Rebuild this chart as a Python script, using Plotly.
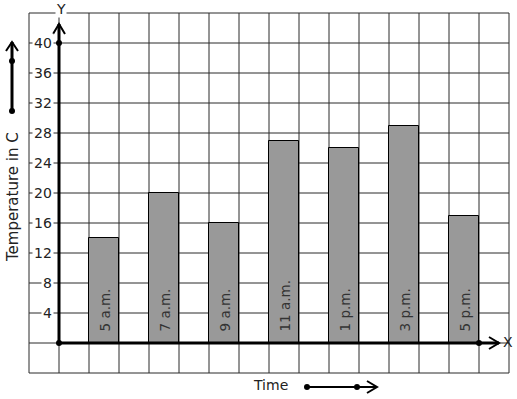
import plotly.graph_objects as go

# ---- data ----
times = ["5 a.m.", "7 a.m.", "9 a.m.", "11 a.m.", "1 p.m.", "3 p.m.", "5 p.m."]
temps = [14, 20, 16, 27, 26, 29, 17]
bar_pos = [1.5, 3.5, 5.5, 7.5, 9.5, 11.5, 13.5]
y_ticks = [4, 8, 12, 16, 20, 24, 28, 32, 36, 40]

# ---- pixel geometry helpers (figure is 517x399, plot area = whole figure) ----
W, H = 517, 399
X0PX, Y0PX = 59, 343          # pixel position of origin
PX_X, PX_Y = 30.0, 7.5        # pixels per data unit
def dx(px): return (px - X0PX) / PX_X
def dy(py): return (Y0PX - py) / PX_Y

FONT = "DejaVu Sans"
TXT = "#222222"
shapes = []
annotations = []

# grid
for gx in range(-1, 16):
    shapes.append(dict(type="line", x0=gx, x1=gx, y0=-4, y1=44,
                       line=dict(color="#2b2b2b", width=1), layer="below"))
for gy in range(-4, 45, 4):
    shapes.append(dict(type="line", x0=-1, x1=15, y0=gy, y1=gy,
                       line=dict(color="#2b2b2b", width=1), layer="below"))

fig = go.Figure()
fig.add_trace(go.Bar(
    x=bar_pos, y=temps, width=1,
    marker=dict(color="#999999", line=dict(color="#000000", width=1)),
    hoverinfo="skip", showlegend=False,
))

# bar labels (rotated, at the base of each bar)
for xp, lab in zip(bar_pos, times):
    annotations.append(dict(x=xp, y=0, text=lab, showarrow=False, textangle=-90,
                            xanchor="center", yanchor="bottom", yshift=9,
                            font=dict(family=FONT, size=13.5, color="#333333")))

# y tick labels
for t in y_ticks:
    annotations.append(dict(x=dx(54), y=t, text=str(t), showarrow=False,
                            xanchor="right", yanchor="middle", bgcolor="white",
                            borderpad=1,
                            font=dict(family=FONT, size=14, color=TXT)))

# axes
ytip, xtip = dy(24), dx(499)
shapes.append(dict(type="line", x0=0, x1=0, y0=0, y1=ytip, line=dict(color="black", width=3)))
shapes.append(dict(type="line", x0=0, x1=xtip, y0=0, y1=0, line=dict(color="black", width=3)))
# arrowheads (open chevrons)
shapes.append(dict(type="path",
                   path=f"M {dx(53)},{dy(34)} L 0,{ytip} L {dx(65)},{dy(34)}",
                   line=dict(color="black", width=2)))
shapes.append(dict(type="path",
                   path=f"M {dx(489)},{dy(337)} L {xtip},0 L {dx(489)},{dy(349)}",
                   line=dict(color="black", width=2)))

# left vertical arrow
shapes.append(dict(type="line", x0=dx(12), x1=dx(12), y0=dy(111), y1=dy(42),
                   line=dict(color="black", width=3)))
shapes.append(dict(type="path",
                   path=f"M {dx(6)},{dy(51)} L {dx(12)},{dy(42)} L {dx(18)},{dy(51)}",
                   line=dict(color="black", width=2)))
# bottom horizontal arrow
shapes.append(dict(type="line", x0=dx(307), x1=dx(376), y0=dy(387), y1=dy(387),
                   line=dict(color="black", width=2)))
shapes.append(dict(type="path",
                   path=f"M {dx(367)},{dy(381)} L {dx(377)},{dy(387)} L {dx(367)},{dy(393)}",
                   line=dict(color="black", width=2)))

# dots
dots_x = [0, 0, 14, dx(12), dx(12), dx(307), dx(357)]
dots_y = [0, 40, 0, dy(61), dy(111), dy(387), dy(387)]
fig.add_trace(go.Scatter(x=dots_x, y=dots_y, mode="markers",
                         marker=dict(color="black", size=6),
                         hoverinfo="skip", showlegend=False))

# axis letters and titles
annotations.append(dict(x=dx(61), y=dy(9), text="Y", showarrow=False, bgcolor="white",
                        borderpad=0, font=dict(family=FONT, size=14, color=TXT)))
annotations.append(dict(x=dx(508), y=dy(342), text="X", showarrow=False,
                        font=dict(family=FONT, size=14, color=TXT)))
annotations.append(dict(x=dx(13), y=dy(197), text="Temperature in C", showarrow=False,
                        textangle=-90, font=dict(family=FONT, size=15, color=TXT)))
annotations.append(dict(x=dx(270), y=dy(385), text="Time", showarrow=False,
                        font=dict(family=FONT, size=14, color=TXT)))

fig.update_layout(
    width=W, height=H, autosize=False,
    margin=dict(l=0, r=0, t=0, b=0, pad=0),
    paper_bgcolor="white", plot_bgcolor="white",
    xaxis=dict(range=[dx(0), dx(W)], visible=False, fixedrange=True),
    yaxis=dict(range=[dy(H), dy(0)], visible=False, fixedrange=True),
    shapes=shapes, annotations=annotations, bargap=0,
)

fig.write_html("out.html")
